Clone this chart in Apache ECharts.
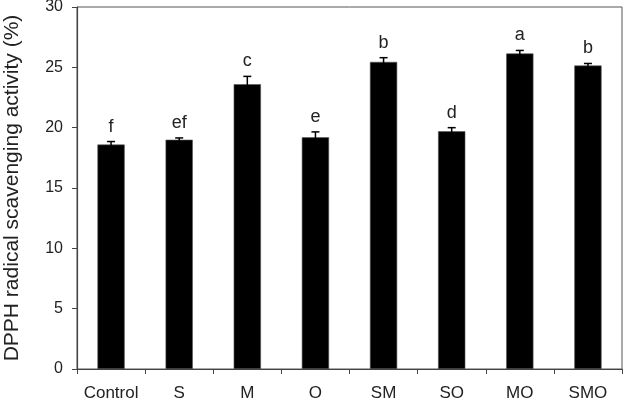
<!DOCTYPE html>
<html><head><meta charset="utf-8">
<script src="https://cdn.jsdelivr.net/npm/echarts@6/dist/echarts.min.js"></script>
<style>html,body{margin:0;padding:0;background:#fff}#c{width:627px;height:400px}</style>
</head><body><div id="c"></div>
<script>
var categories = ['Control','S','M','O','SM','SO','MO','SMO'];
var values = [18.6, 19.0, 23.6, 19.2, 25.45, 19.7, 26.15, 25.15];
var errors = [0.25, 0.15, 0.65, 0.45, 0.35, 0.3, 0.25, 0.17];
var letters = ['f','ef','c','e','b','d','a','b'];
var yTicks = [0,5,10,15,20,25,30];

var chart = echarts.init(document.getElementById('c'));
var font = 'Liberation Sans, Arial, sans-serif';
var axisColor = '#444';
chart.setOption({
  animation: false,
  grid: {left: 77, right: 5, top: 7, bottom: 31, show: true, borderColor: '#555', borderWidth: 1,
    outerBoundsMode: 'none', containLabel: false},
  xAxis: {
    type: 'category', data: categories,
    axisLine: {lineStyle: {color: axisColor, width: 1.2}},
    axisTick: {show: true, length: 5, inside: false, lineStyle: {color: axisColor}},
    axisLabel: {color: '#222', fontSize: 17, fontFamily: font, margin: 16, interval: 0}
  },
  yAxis: {
    type: 'value', min: 0, max: 30, interval: 5,
    name: 'DPPH radical scavenging activity (%)', nameLocation: 'middle', nameGap: 54,
    nameTextStyle: {color: '#222', fontSize: 21, fontFamily: font},
    axisLine: {show: true, lineStyle: {color: axisColor, width: 1.2}},
    axisTick: {show: true, length: 5, lineStyle: {color: axisColor}},
    axisLabel: {color: '#222', fontSize: 16, fontFamily: font, margin: 14,
      formatter: function(v){ return yTicks.indexOf(v) >= 0 ? String(v) : ''; }},
    splitLine: {show: false}
  },
  series: [
    {type: 'bar', data: values, barWidth: '40%', itemStyle: {color: '#000', borderColor: '#555', borderWidth: 0.6}},
    {type: 'custom', z: 5,
      data: values.map(function(v, i){ return [i, v, errors[i]]; }),
      renderItem: function(params, api){
        var i = api.value(0), v = api.value(1), e = api.value(2);
        var top = api.coord([i, v + e]);
        var bot = api.coord([i, v - e]);
        var cap = 4;
        return {type: 'group', children: [
          {type: 'line', shape: {x1: top[0], y1: top[1], x2: bot[0], y2: bot[1]}, style: {stroke: '#000', lineWidth: 1.5}},
          {type: 'line', shape: {x1: top[0]-cap, y1: top[1], x2: top[0]+cap, y2: top[1]}, style: {stroke: '#000', lineWidth: 1.5}},
          {type: 'text', style: {text: letters[params.dataIndex], x: top[0], y: top[1] - 15,
            align: 'center', verticalAlign: 'middle', fill: '#222', font: '18px ' + font}}
        ]};
      }
    }
  ]
});
</script></body></html>
